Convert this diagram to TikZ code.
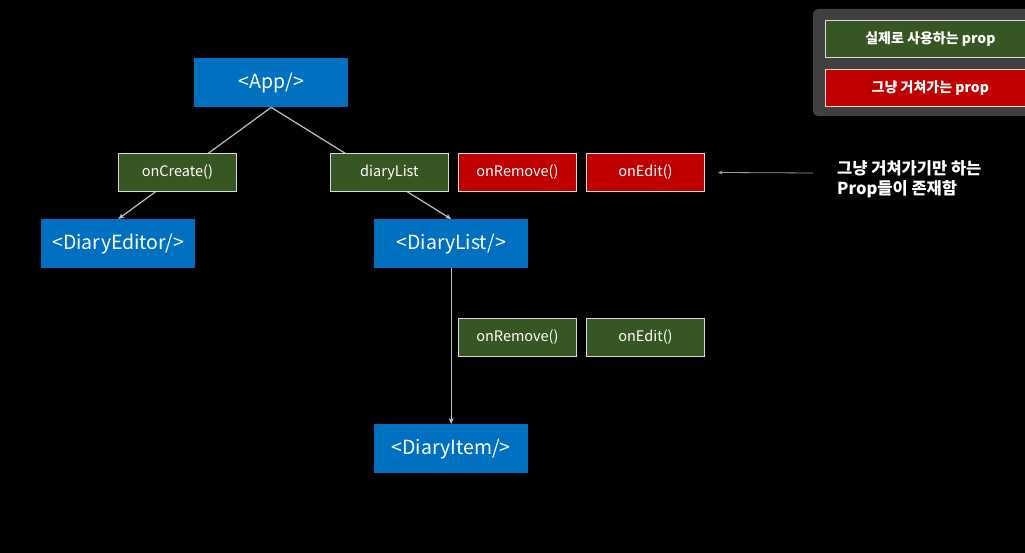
\documentclass[tikz,border=0pt]{standalone}
\usepackage{fontspec}
\setmainfont{Noto Sans CJK KR}
\usetikzlibrary{arrows.meta}
\definecolor{compblue}{HTML}{0070C0}
\definecolor{propgreen}{HTML}{375623}
\definecolor{propred}{HTML}{C00000}
\definecolor{panelgray}{HTML}{404040}
\definecolor{linegray}{HTML}{BFBFBF}
\tikzset{
  comp/.style={fill=compblue, text=white, inner sep=0pt, minimum width=154pt, minimum height=49pt, anchor=north west, font=\fontsize{19.5}{22}\selectfont},
  gprop/.style={fill=propgreen, draw=white!85!black, line width=0.8pt, text=white, inner sep=0pt, minimum width=118pt, minimum height=38pt, anchor=north west, font=\fontsize{14.5}{17}\selectfont},
  rprop/.style={gprop, fill=propred},
  legend/.style={gprop, minimum width=210pt, minimum height=37pt, font=\fontsize{14}{17}\selectfont\bfseries},
  conn/.style={draw=linegray, line width=1.2pt, -{Stealth[length=6pt,width=5pt]}},
}
\begin{document}
\begin{tikzpicture}[x=1pt,y=-1pt]
\fill[black] (0,0) rectangle (1025,553);
\useasboundingbox (0,0) rectangle (1025,553);
\clip (0,0) rectangle (1025,553);
% components
\node[comp] (app) at (194,58) {<App/>};
\node[comp] (editor) at (41,219) {<DiaryEditor/>};
\node[comp] (list) at (374,219) {<DiaryList/>};
\node[comp] (item) at (374,424) {<DiaryItem/>};
% connectors
\draw[conn] (app.south) -- (editor.north);
\draw[conn] (app.south) -- (list.north);
\draw[conn] (list.south) -- (item.north);
% props
\node[gprop] (oncreate) at (118,153) {onCreate()};
\node[gprop] (diarylist) at (330,153) {diaryList};
\node[rprop] (onremove1) at (458,153) {onRemove()};
\node[rprop] (onedit1) at (586,153) {onEdit()};
\node[gprop] (onremove2) at (458,318) {onRemove()};
\node[gprop] (onedit2) at (586,318) {onEdit()};
% annotation
\coordinate (annstart) at (813,173);
\draw[draw=linegray!80!black, line width=0.8pt, shorten >=13pt, -{Stealth[length=5pt,width=4pt]}] (annstart) -- (onedit1.east);
\node[anchor=north west, text=white, align=left, inner sep=0pt, font=\fontsize{16.5}{20}\selectfont\bfseries] (note) at (837,160) {그냥 거쳐가기만 하는\\Prop들이 존재함};
% legend panel
\fill[panelgray, rounded corners=5pt] (813,9) rectangle (1040,116);
\node[legend] (leg1) at (825,20) {실제로 사용하는 prop};
\node[legend, fill=propred] (leg2) at (825,69) {그냥 거쳐가는 prop};
\end{tikzpicture}
\end{document}
